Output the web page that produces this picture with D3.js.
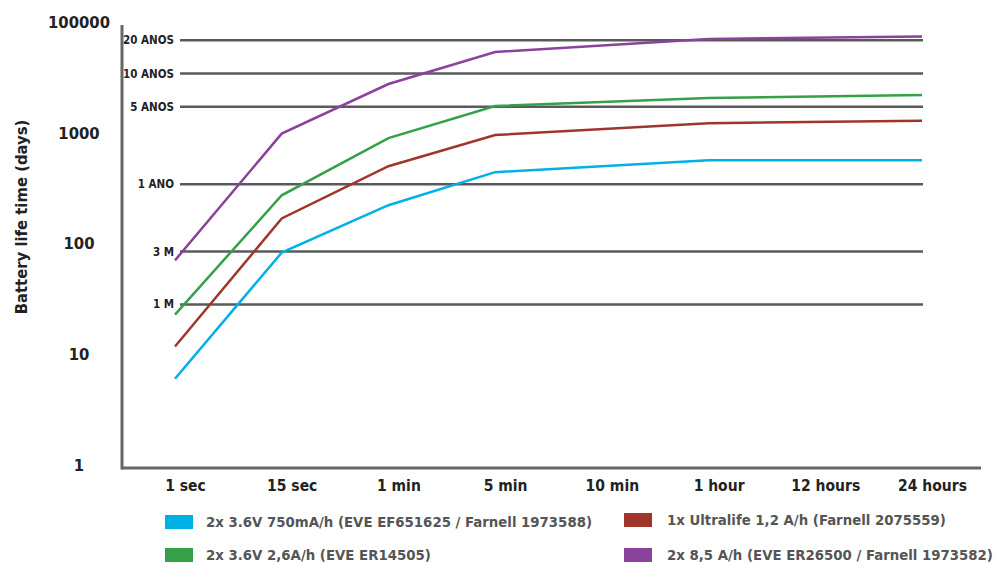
<!DOCTYPE html>
<html>
<head>
<meta charset="utf-8">
<script src="https://cdn.jsdelivr.net/npm/d3@7"></script>
<style>
  body { margin: 0; background: #fff; }
  text { font-family: "DejaVu Sans Condensed", "DejaVu Sans", sans-serif; font-weight: bold; }
</style>
</head>
<body>
<div id="canvas"></div>
<script>
// data (days of battery life)
const periods = ["1 sec", "15 sec", "1 min", "5 min", "10 min", "1 hour", "12 hours", "24 hours"];
const blueVals   = [6.4, 88, 236, 469, null, 601, null, 601];
const redVals    = [12.5, 179, 531, 1014, null, 1300, null, 1364];
const greenVals  = [24.3, 290, 951, 1854, null, 2190, null, 2334];
const purpleVals = [75, 1045, 2930, 5710, null, 7480, null, 7890];

const yTicks = [1, 10, 100, 1000, 10000];
const yTickLabels = ["1", "10", "100", "1000", "100000"];

const refValues = [7300, 3650, 1825, 365, 90, 30];
const refLabels = ["20 ANOS", "10 ANOS", "5 ANOS", "1 ANO", "3 M", "1 M"];

const seriesNames = [
  "2x 3.6V 750mA/h (EVE EF651625 / Farnell 1973588)",
  "1x Ultralife 1,2 A/h (Farnell 2075559)",
  "2x 3.6V 2,6A/h (EVE ER14505)",
  "2x 8,5 A/h (EVE ER26500 / Farnell 1973582)"
];

const width = 994;
const height = 565;

const series = [
  { name: seriesNames[0], values: blueVals,   color: "#00b0e6" },
  { name: seriesNames[1], values: redVals,    color: "#a0352b" },
  { name: seriesNames[2], values: greenVals,  color: "#35a047" },
  { name: seriesNames[3], values: purpleVals, color: "#8a429b" }
];

const svg = d3.select("#canvas").append("svg")
  .attr("width", width)
  .attr("height", height);

const x = d3.scalePoint()
  .domain(periods)
  .range([175, 922]);

const y = d3.scaleLog()
  .domain([1, 10000])
  .range([468, 25]);

// reference lines (years / months)
const refs = svg.append("g").selectAll("g").data(refValues).enter().append("g");
refs.append("line")
  .attr("x1", 180)
  .attr("x2", 923)
  .attr("y1", d => y(d))
  .attr("y2", d => y(d))
  .style("stroke", "#5a5a5a")
  .style("stroke-width", 2.5);
refs.append("text")
  .attr("x", 174)
  .attr("y", d => y(d))
  .attr("dy", "0.35em")
  .attr("text-anchor", "end")
  .style("font-size", "11.5px")
  .style("fill", "#222")
  .text((d, i) => refLabels[i]);

// series lines
const line = d3.line()
  .x(d => x(d.p))
  .y(d => y(d.v));

svg.append("g").selectAll("path").data(series).enter().append("path")
  .attr("d", s => line(periods.map((p, i) => ({ p: p, v: s.values[i] })).filter(d => d.v != null)))
  .style("fill", "none")
  .style("stroke", s => s.color)
  .style("stroke-width", 2.5);

// axes
svg.append("line")
  .attr("x1", 122).attr("x2", 122)
  .attr("y1", y(10000)).attr("y2", y(1) + 1.5)
  .style("stroke", "#666").style("stroke-width", 3);
svg.append("line")
  .attr("x1", 122).attr("x2", 981)
  .attr("y1", y(1)).attr("y2", y(1))
  .style("stroke", "#666").style("stroke-width", 3);

const yAxis = svg.append("g")
  .attr("transform", "translate(79,0)")
  .call(d3.axisLeft(y).tickValues(yTicks).tickSize(0).tickFormat((d, i) => yTickLabels[i]));
yAxis.select(".domain").remove();
yAxis.attr("font-family", null);
yAxis.selectAll("text")
  .attr("x", 0)
  .attr("dy", "0.15em")
  .attr("text-anchor", "middle")
  .style("font-size", "16.5px")
  .style("fill", "#222");

const xAxis = svg.append("g")
  .attr("transform", "translate(10,480)")
  .call(d3.axisBottom(x).tickSize(0));
xAxis.select(".domain").remove();
xAxis.attr("font-family", null);
xAxis.selectAll("text")
  .attr("y", 0)
  .attr("dy", "0.7em")
  .style("font-size", "15.5px")
  .style("fill", "#222");

svg.append("text")
  .attr("transform", "translate(27,217) rotate(-90)")
  .attr("text-anchor", "middle")
  .style("font-size", "16.5px")
  .style("fill", "#222")
  .text("Battery life time (days)");

// legend
const legendPos = [
  { sx: 165, tx: 206, y: 522 },
  { sx: 624, tx: 667, y: 520 },
  { sx: 165, tx: 206, y: 555 },
  { sx: 624, tx: 667, y: 555 }
];
const legend = svg.append("g").selectAll("g").data(series).enter().append("g");
legend.append("rect")
  .attr("x", (d, i) => legendPos[i].sx)
  .attr("y", (d, i) => legendPos[i].y - 7)
  .attr("width", 28)
  .attr("height", 14)
  .style("fill", d => d.color);
legend.append("text")
  .attr("x", (d, i) => legendPos[i].tx)
  .attr("y", (d, i) => legendPos[i].y)
  .attr("dy", "0.35em")
  .style("font-size", "14.8px")
  .style("fill", "#555")
  .text(d => d.name);
</script>
</body>
</html>
